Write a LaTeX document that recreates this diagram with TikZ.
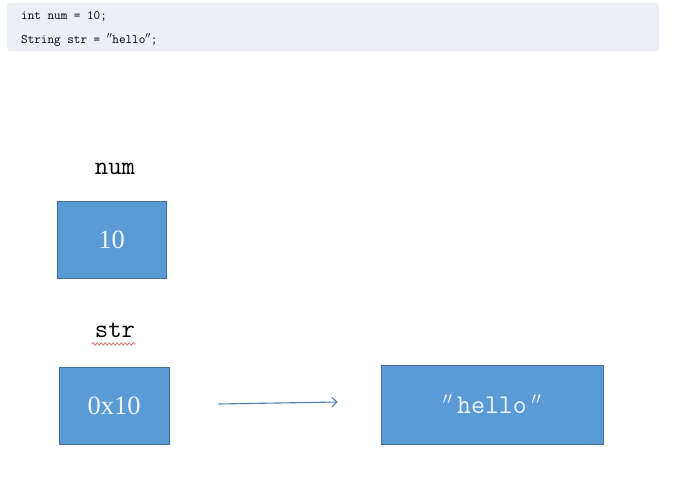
\documentclass[tikz,border=0pt]{standalone}
\usepackage{fontspec}
\setmainfont{Liberation Serif}
\usetikzlibrary{arrows.meta, decorations.pathmorphing}
\definecolor{codebg}{HTML}{ECEFF6}
\definecolor{cellfill}{HTML}{5B9BD5}
\definecolor{celledge}{HTML}{41719C}
\definecolor{celltext}{HTML}{EEF4FB}
\definecolor{ptrline}{HTML}{4F7FAF}
\definecolor{spellred}{HTML}{E86A6A}
\newcommand{\dq}{\ensuremath{^{\prime\prime}}}

\begin{document}
\begin{tikzpicture}[x=1pt, y=-1pt,
	codeline/.style={anchor=west, inner sep=0pt, font=\ttfamily\fontsize{12.8}{14}\selectfont},
	varname/.style={font=\ttfamily\fontsize{26}{29}\selectfont},
	cell/.style={draw=celledge, line width=0.8pt, fill=cellfill, text=celltext, font=\fontsize{26.5}{29}\selectfont},
	strcell/.style={cell, font=\ttfamily\fontsize{27}{30}\selectfont}]
	\useasboundingbox (0,0) rectangle (678,481);
	% code snippet
	\fill[codebg, rounded corners=3pt] (7,3) rectangle (659,51);
	\node[codeline] (line1) at (21,16) {int num = 10;};
	\node[codeline] (line2) at (21,40) {String str = \dq hello\dq;};
	% variable num
	\node[varname] (numname) at (115,169) {num};
	\node[cell, minimum width=109pt, minimum height=77pt] (numbox) at (111.5,239.5) {10};
	% variable str
	\node[varname] (strname) at (115,330.5) {str};
	\draw[spellred, line width=0.7pt, decorate, decoration={snake, segment length=4pt, amplitude=1.3pt}] (92,344) -- (136,344);
	\node[cell, minimum width=110pt, minimum height=77pt] (strbox) at (114,405.5) {0x10};
	\node[strcell, minimum width=222pt, minimum height=79pt] (hellobox) at (492,404.5) {\dq\,hello\,\dq};
	% reference
	\draw[ptrline, line width=1.1pt, -{Straight Barb[length=5pt, width=10pt]}] ([xshift=49pt, yshift=1.5pt]strbox.east) -- ([xshift=-43pt, yshift=2.5pt]hellobox.west);
\end{tikzpicture}
\end{document}
